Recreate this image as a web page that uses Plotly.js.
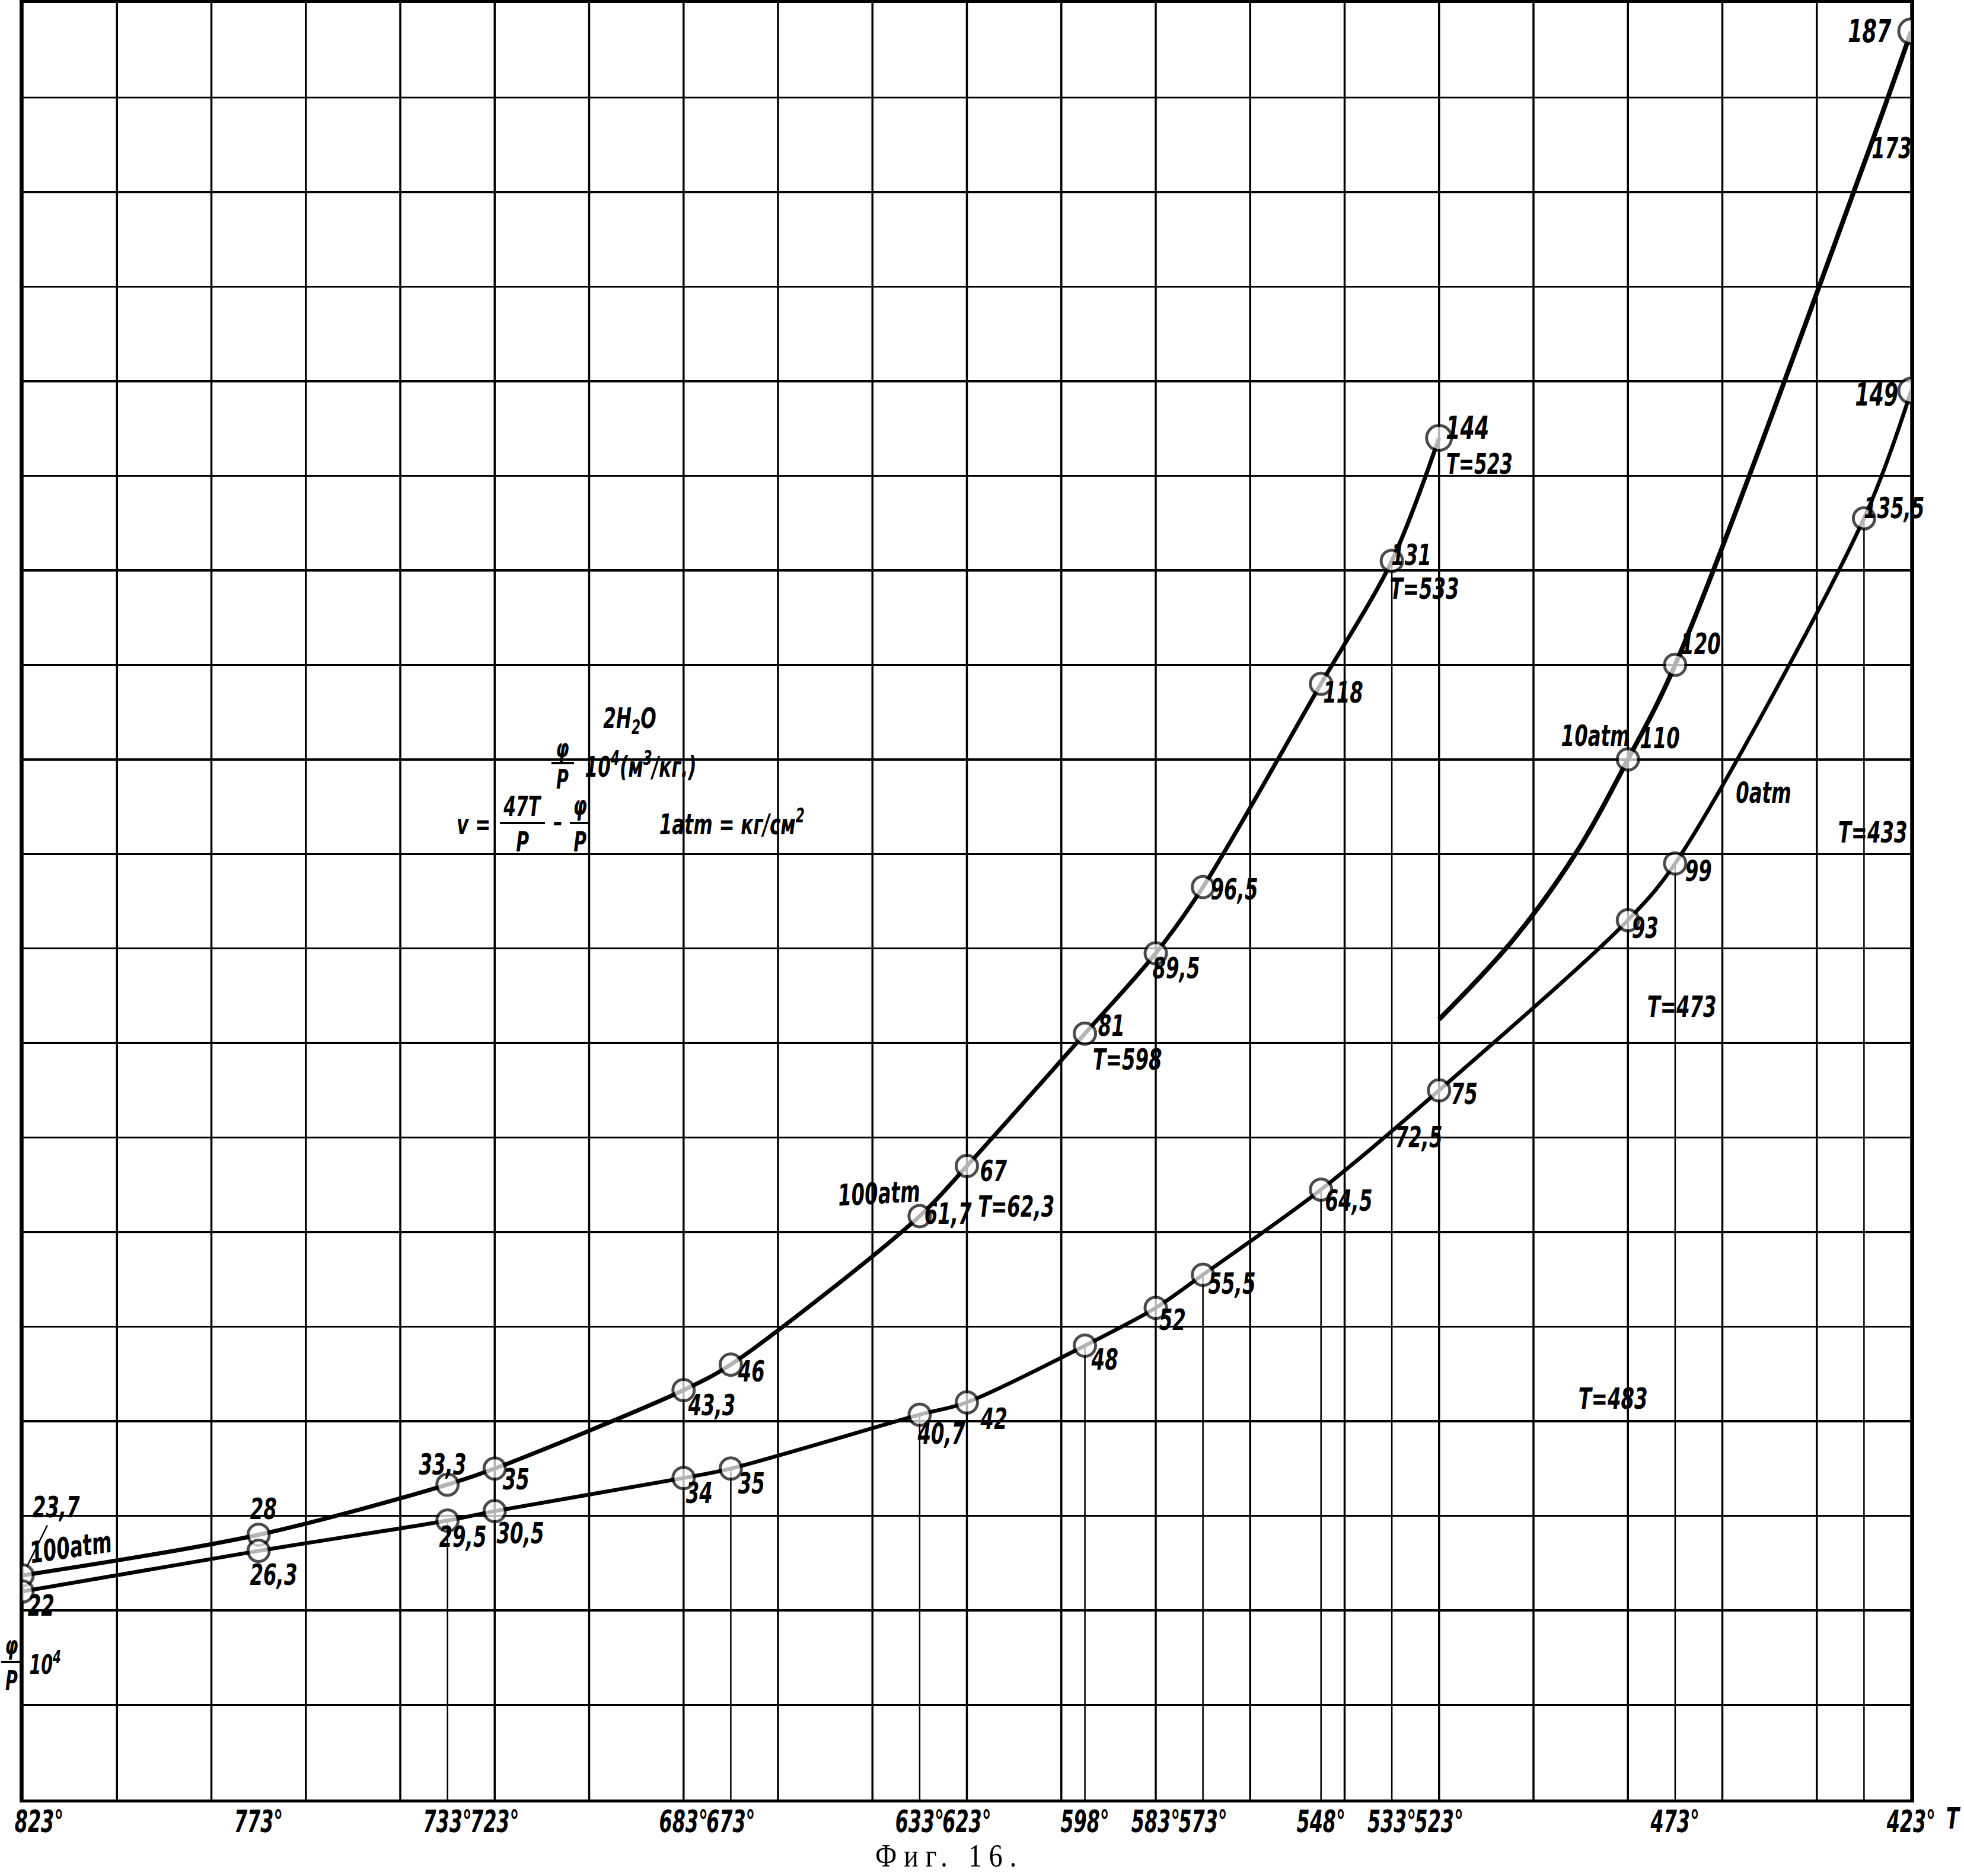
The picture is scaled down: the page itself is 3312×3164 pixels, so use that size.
<!DOCTYPE html>
<html>
<head>
<meta charset="utf-8">
<script src="https://cdn.plot.ly/plotly-3.0.1.min.js"></script>
<style>
html,body{margin:0;padding:0;background:#fff;}
#chart{width:3312px;height:3164px;}
</style>
</head>
<body>
<div id="chart"></div>
<script>
// ---------- DATA ----------
// 100 atm curve
const upperT = [823, 773, 733, 723, 683, 673, 633, 623, 598, 583, 573, 548, 533, 523];
const upperV = [23.7, 28, 33.3, 35, 43.3, 46, 61.7, 67, 81, 89.5, 96.5, 118, 131, 144];
// 0 atm curve (72,5 at 533 is written without a circle)
const lowerT = [823, 773, 733, 723, 683, 673, 633, 623, 598, 583, 573, 548, 533, 523, 483, 473, 433, 423];
const lowerV = [22, 26.3, 29.5, 30.5, 34, 35, 40.7, 42, 48, 52, 55.5, 64.5, 72.5, 75, 93, 99, 135.5, 149];
const lowerCircled = [1,1,1,1,1,1,1,1,1,1,1,1,0,1,1,1,1,1];
// 10 atm curve (507.5 and 494 are points, unlabelled)
const tenT = [523, 507.5, 494, 483, 473, 433, 423];
const tenV = [82.5, 90.8, 100.1, 110, 120, 173, 187];
const tenCircled = [0, 0, 0, 1, 1, 0, 1];
const tenLabeled = [0, 0, 0, 1, 1, 1, 1];
// x-axis tick labels
const tickT = [823, 773, 733, 723, 683, 673, 633, 623, 598, 583, 573, 548, 533, 523, 473, 423];
const tickText = tickT.map(t => t + '°');
// temperatures with thin drop lines to the axis
const dropT = [733, 673, 633, 598, 573, 548, 533, 473, 433];

// ---------- STYLE / POSITIONS ----------
const L = 38, R = 3223, TOP = 5, B = 3035, W = 3312, H = 3164;
const px = x => (x - L) / (R - L);
const py = y => (B - y) / (B - TOP);

const FAM = "'DejaVu Sans Condensed', 'DejaVu Sans', sans-serif";
const lf = (size) => ({family: FAM, size: size || 50, color: '#000', style: 'italic', weight: 'bold'});

// label offsets (pixels; dx right, dy down) relative to each point
const upperOff = [[57,-115],[8,-43],[-8,-34],[36,18],[47,26],[35,12],[48,-4],[45,8],[45,-13],[34,25],[53,4],[37,15],[33,-10],[48,-17]];
const lowerOff = [[31,24],[25,40],[26,27],[43,37],[27,25],[35,25],[37,32],[45,28],[33,23],[28,20],[49,15],[47,19],[45,39],[43,6],[29,13],[40,13],[51,-17],[-59,7]];
const tenOff = [[0,0],[0,0],[0,0],[54,-36],[43,-35],[47,-26],[-70,0]];

const fmt = v => String(v).replace('.', ',');

// ---------- TRACES ----------
const traces = [];

// drop lines
const dx = [], dy = [];
dropT.forEach(t => {
  const i = lowerT.indexOf(t);
  let v = null;
  if (i >= 0 && lowerCircled[i]) v = lowerV[i];
  else {
    const j = upperT.indexOf(t);
    if (j >= 0) v = upperV[j];
  }
  if (v === null) return;
  dx.push(t, t, null); dy.push(0, v, null);
});
traces.push({x: dx, y: dy, mode: 'lines', line: {color: '#000', width: 2.5}, hoverinfo: 'skip', showlegend: false});

// curves
const lowLineT = lowerT.filter((t, i) => lowerCircled[i]);
const lowLineV = lowerV.filter((v, i) => lowerCircled[i]);
traces.push({x: upperT, y: upperV, mode: 'lines', line: {color: '#000', width: 7, shape: 'spline', smoothing: 0.9}, hoverinfo: 'skip', showlegend: false});
traces.push({x: lowLineT, y: lowLineV, mode: 'lines', line: {color: '#000', width: 6.5, shape: 'spline', smoothing: 0.9}, hoverinfo: 'skip', showlegend: false});
traces.push({x: tenT, y: tenV, mode: 'lines', line: {color: '#000', width: 8, shape: 'spline', smoothing: 1}, hoverinfo: 'skip', showlegend: false});

// circles
function circles(T, V, flags, bigIdx) {
  const xs = [], ys = [], sz = [];
  T.forEach((t, i) => {
    if (flags && !flags[i]) return;
    xs.push(t); ys.push(V[i]); sz.push(bigIdx.includes(i) ? 42 : 36);
  });
  return {x: xs, y: ys, mode: 'markers', marker: {symbol: 'circle', size: sz, sizemode: 'diameter', sizeref: 1,
          color: '#fff', line: {color: '#000', width: 5}}, hoverinfo: 'skip', showlegend: false};
}
traces.push(circles(upperT, upperV, null, [upperT.length - 1]));
traces.push(circles(lowerT, lowerV, lowerCircled, [lowerT.length - 1]));
traces.push(circles(tenT, tenV, tenCircled, [tenT.length - 1]));

// ---------- ANNOTATIONS ----------
const ann = [];
function ptLabels(T, V, off, flags, bigIdx) {
  T.forEach((t, i) => {
    if (flags && !flags[i]) return;
    const o = off[i];
    ann.push({x: t, y: V[i], xref: 'x', yref: 'y', text: fmt(V[i]), font: lf(bigIdx.includes(i) ? 54 : 50),
              xanchor: 'center', yanchor: 'middle', showarrow: false, xshift: o[0], yshift: -o[1]});
  });
}
ptLabels(upperT, upperV, upperOff, null, [upperT.length - 1]);
// first upper label has a leader line
Object.assign(ann[0], {showarrow: true, xshift: 0, yshift: 0, ax: upperOff[0][0], ay: upperOff[0][1],
  arrowhead: 0, arrowwidth: 2.5, arrowcolor: '#000', standoff: 16});
ptLabels(lowerT, lowerV, lowerOff, null, [lowerT.length - 1]);
ptLabels(tenT, tenV, tenOff, tenLabeled, [tenT.length - 1]);

function freeText(text, x, y, size, extra) {
  ann.push(Object.assign({x: px(x), y: py(y), xref: 'paper', yref: 'paper', text: text, font: lf(size),
                          xanchor: 'center', yanchor: 'middle', showarrow: false}, extra || {}));
}
freeText('100atm', 119, 2610, 50, {textangle: -8});
freeText('100atm', 1482, 2013, 50, {textangle: -3});
freeText('T=62,3', 1713, 2035, 50);
freeText('T=598', 1901, 1787, 50);
freeText('T=533', 2402, 993, 50);
freeText('T=523', 2495, 782, 48);
freeText('10atm', 2690, 1241, 50);
freeText('0atm', 2974, 1337, 50);
freeText('T=433', 3158, 1404, 50);
freeText('T=473', 2836, 1698, 50);
freeText('T=483', 2720, 2359, 50);

// formula block
freeText('2H<sub>2</sub>O', 1062, 1215, 48);
freeText('φ', 949, 1261, 44);
freeText('P', 949, 1314, 44);
freeText('10<sup>4</sup>(м<sup>3</sup>/кг.)', 1080, 1290, 48);
freeText('v =', 798, 1390, 48);
freeText('47T', 881, 1360, 46);
freeText('P', 881, 1420, 46);
freeText('–', 941, 1385, 48);
freeText('φ', 978, 1358, 46);
freeText('P', 978, 1420, 46);
freeText('1atm = кг/см<sup>2</sup>', 1234, 1387, 48);

// y-axis label at lower left
freeText('φ', 19, 2774, 44);
freeText('P', 19, 2834, 44);
freeText('10<sup>4</sup>', 76, 2804, 44);

// T after the axis
freeText('T', 3294, 3067, 50);

// caption
const CAPTION = 'Фиг. 16.';
ann.push({x: px(1601), y: py(3130), xref: 'paper', yref: 'paper', text: CAPTION, showarrow: false,
          xanchor: 'center', yanchor: 'middle',
          font: {family: "'Liberation Serif', 'DejaVu Serif', serif", size: 54, color: '#000'}});

// ---------- SHAPES ----------
const shapes = [];
for (let t = 423; t <= 823; t += 20) {
  shapes.push({type: 'line', xref: 'x', yref: 'paper', x0: t, x1: t, y0: 0, y1: 1,
               line: {color: '#000', width: 3.5}, layer: 'below'});
}
function bar(x0, x1, y) {
  shapes.push({type: 'line', xref: 'paper', yref: 'paper', x0: px(x0), x1: px(x1), y0: py(y), y1: py(y),
               line: {color: '#000', width: 4}});
}
bar(930, 968, 1287);
bar(843, 919, 1388);
bar(961, 995, 1388);
bar(2, 36, 2803);

// ---------- LAYOUT ----------
const layout = {
  width: W, height: H,
  margin: {l: L, r: W - R, t: TOP, b: H - B, pad: 0},
  paper_bgcolor: '#fff', plot_bgcolor: '#fff',
  showlegend: false,
  xaxis: {
    range: [823, 423], tickmode: 'array', tickvals: tickT, ticktext: tickText,
    tickangle: 0, ticks: '', showgrid: false, zeroline: false,
    showline: true, mirror: true, linecolor: '#000', linewidth: 5,
    tickfont: lf(52), ticklabelstandoff: -12, ticklabeloverflow: 'allow'
  },
  yaxis: {
    range: [0, 190], tick0: 0, dtick: 10, ticks: '', showticklabels: false,
    showgrid: true, gridcolor: '#000', gridwidth: 3.5, zeroline: false,
    showline: true, mirror: true, linecolor: '#000', linewidth: 5
  },
  annotations: ann,
  shapes: shapes
};

// condense hand-lettered text horizontally about its centre (keeps it as real text)
function condense(el, sx, shift) {
  const bb = el.getBBox();
  const cx = bb.x + bb.width / 2;
  const prev = el.getAttribute('transform') || '';
  el.setAttribute('transform', prev + ' translate(' + (cx + (shift || 0)) + ',0) scale(' + sx + ',1) translate(' + (-cx) + ',0)');
}

Plotly.newPlot('chart', traces, layout, {displayModeBar: false, staticPlot: true}).then(gd => {
  gd.querySelectorAll('.annotation-text-g text').forEach(el => {
    if (el.textContent.trim() === CAPTION) {
      el.setAttribute('letter-spacing', '14');
      condense(el, 0.85);
    } else {
      condense(el, 0.72);
    }
  });
  gd.querySelectorAll('.xtick text').forEach(el => {
    const first = el.textContent.trim() === tickText[0];
    condense(el, 0.68, first ? 28 : 0);
  });
});
</script>
</body>
</html>
